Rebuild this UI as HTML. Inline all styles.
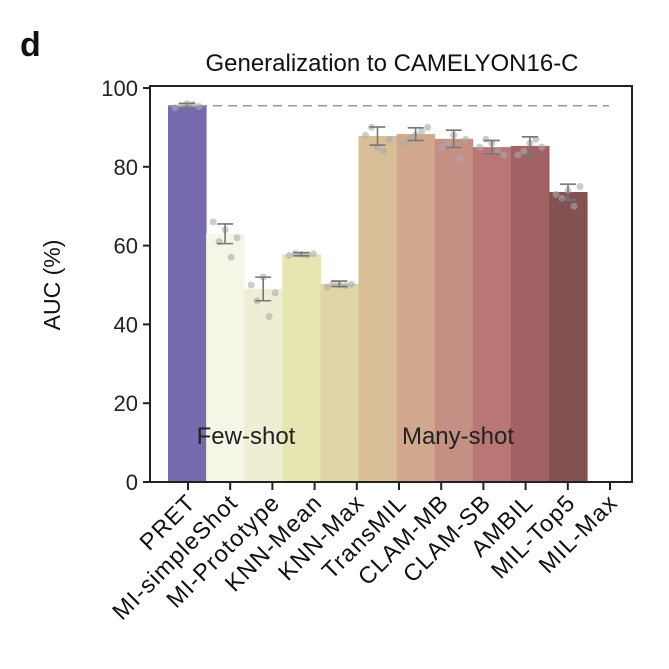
<!DOCTYPE html>
<html><head><meta charset="utf-8"><style>
body{margin:0;background:#fff}
svg{display:block;font-family:"Liberation Sans",sans-serif}
</style></head><body>
<svg id="c" width="669" height="669" viewBox="0 0 669 669">
<text x="20" y="56" font-size="34" font-weight="bold" fill="#111">d</text>
<text x="392" y="71" font-size="24" text-anchor="middle" fill="#111">Generalization to CAMELYON16-C</text>
<text transform="translate(60,285) rotate(-90)" font-size="23" text-anchor="middle" fill="#111">AUC (%)</text>
<g id="bars"></g><g id="marks"></g><g id="axes"></g>
</svg>
<script>
const categories=["PRET","MI-simpleShot","MI-Prototype","KNN-Mean","KNN-Max","TransMIL","CLAM-MB","CLAM-SB","AMBIL","MIL-Top5","MIL-Max"];
const values=[95.5,63,49,57.8,50.3,87.8,88.3,87.1,85.0,85.3,73.6];
const errors=[0.6,2.5,3,0.4,0.7,2.3,1.6,2.2,1.7,2.3,2.0];
const dots=[[95,95.5,96,95.8,95.3],[66,61,64,57,62],[50,46,52,42,48],[57.5,58,57.8,57.6,57.9],[49.5,50.5,50,49.8,50.2],[88,90,85,84,87],[86,87,88,89,90],[85,86,88,82,87],[85,87,86,84,83],[83,84,86,87,85],[73,72,74,70,75]];
const colors=["#776aae","#f6f6e6","#eeeed4","#e5e6b2","#dfd6a8","#d8bf98","#d1a88e","#c68f84","#b87674","#a26264","#835252"];
const yTicks=[0,20,40,60,80,100];
const refLine=95.5;
const NS="http://www.w3.org/2000/svg";
const L=150,R=632,T=86,B=482;
const y=v=>B-v*3.94;
const barX=i=>168+i*38.1;
const tickX=i=>188+i*42.2;
function mk(t,a,p){const e=document.createElementNS(NS,t);for(const k in a)e.setAttribute(k,a[k]);p.appendChild(e);return e;}
const bars=document.getElementById('bars'),marks=document.getElementById('marks'),axes=document.getElementById('axes');
values.forEach((v,i)=>{
 const r=mk('rect',{x:barX(i),y:y(v),width:38.6,height:B-y(v),fill:colors[i]},bars);
 
 
 const cx=barX(i)+19;
 dots[i].forEach((d,j)=>{const c=mk('circle',{cx:cx-12+j*6,cy:y(d),r:3.5,fill:'#aaa','fill-opacity':0.6},marks);
  
  });
 const g=mk('g',{stroke:'#777','stroke-width':1.6},marks);
 
 
 mk('line',{x1:cx,x2:cx,y1:y(v+errors[i]),y2:y(v-errors[i])},g);
 mk('line',{x1:cx-8,x2:cx+8,y1:y(v+errors[i]),y2:y(v+errors[i])},g);
 mk('line',{x1:cx-8,x2:cx+8,y1:y(v-errors[i]),y2:y(v-errors[i])},g);
});
const dl=mk('line',{x1:168,x2:609,y1:y(refLine),y2:y(refLine),stroke:'#999','stroke-width':1.5,'stroke-dasharray':'9,6'},marks);


const t1=mk('text',{x:246,y:444,'font-size':24,'text-anchor':'middle',fill:'#222'},marks);t1.textContent='Few-shot';


const t2=mk('text',{x:458,y:444,'font-size':24,'text-anchor':'middle',fill:'#222'},marks);t2.textContent='Many-shot';


const fr=mk('rect',{x:L,y:T,width:R-L,height:B-T,fill:'none',stroke:'#222','stroke-width':2},axes);


yTicks.forEach(t=>{mk('line',{x1:L-7,x2:L,y1:y(t),y2:y(t),stroke:'#222','stroke-width':2},axes);
 const tx=mk('text',{x:L-12,y:y(t)+8,'font-size':22,'text-anchor':'end',fill:'#222'},axes);tx.textContent=t;
 
 });
categories.forEach((c,i)=>{const x=tickX(i);
 mk('line',{x1:x,x2:x,y1:B,y2:B+8,stroke:'#222','stroke-width':2},axes);
 const tx=mk('text',{transform:`translate(${x+9},${B+22}) rotate(-45)`,'font-size':23.5,'letter-spacing':'1.2','text-anchor':'end',fill:'#111'},axes);tx.textContent=c;
 
 });
</script>
</body></html>
